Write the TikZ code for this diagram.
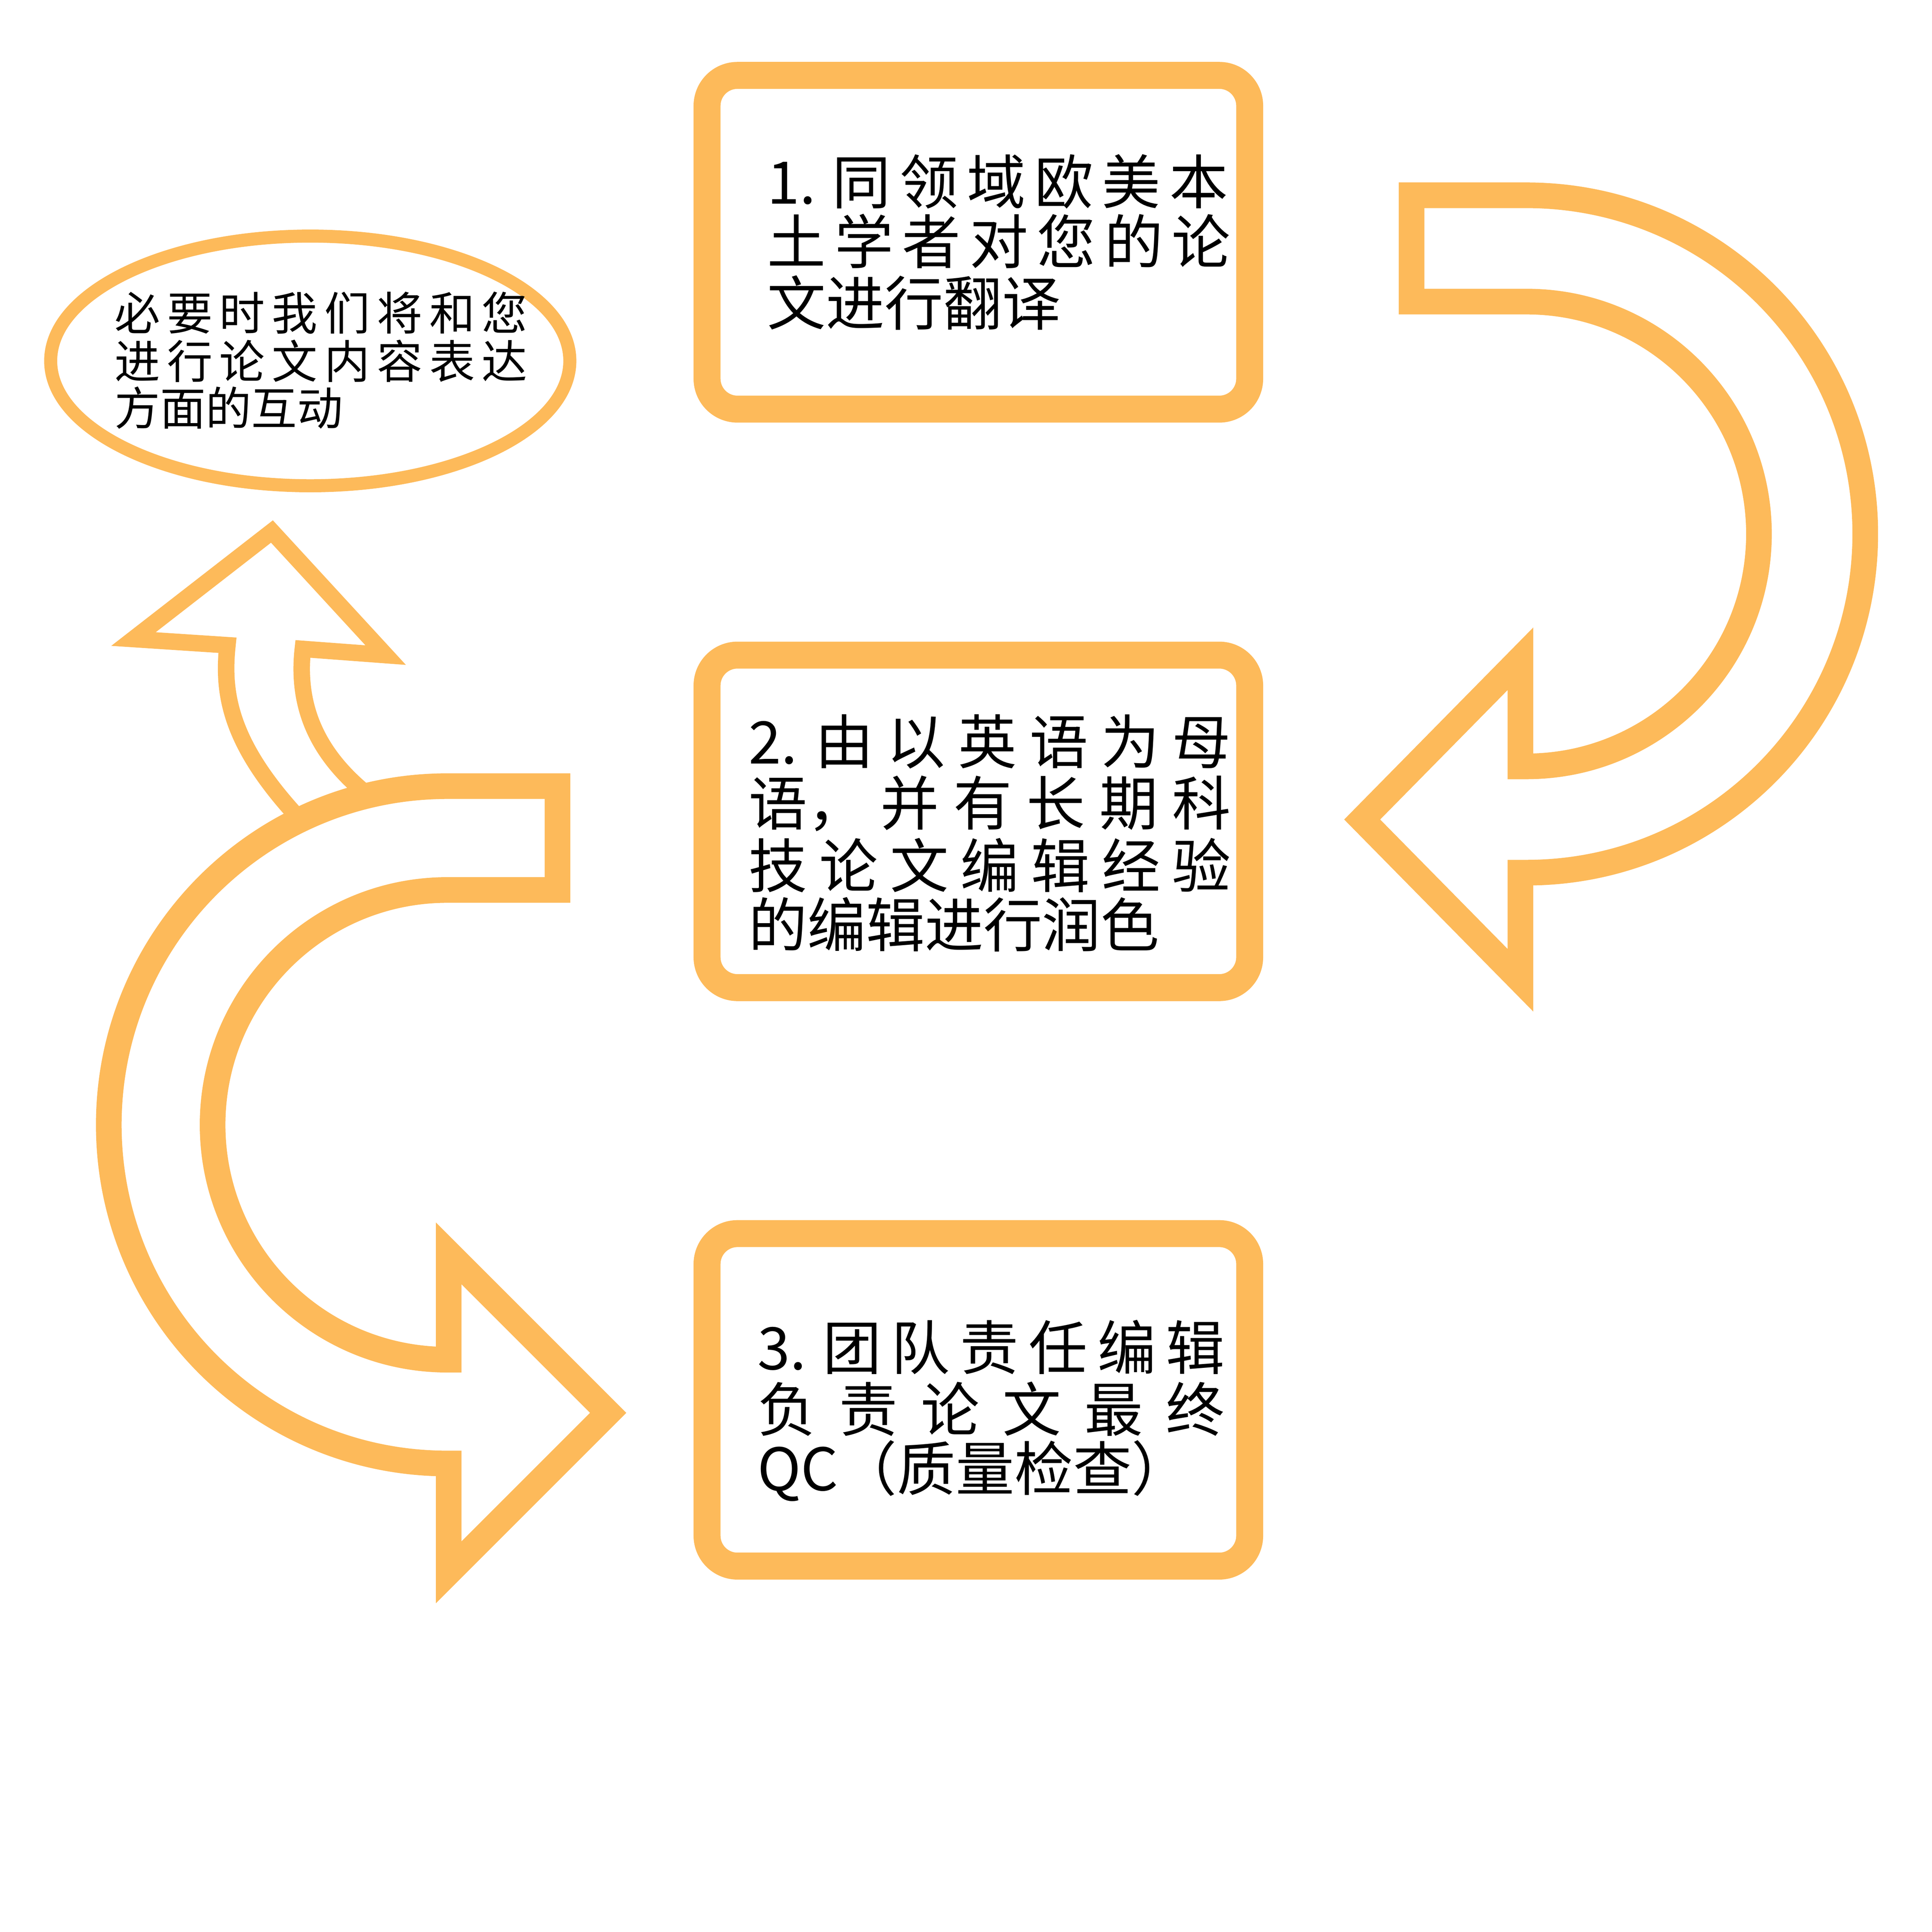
\documentclass[tikz,border=0pt]{standalone}
\usepackage{fontspec}
\setmainfont{Noto Sans CJK SC}
\definecolor{org}{RGB}{253,186,90}
\newcommand{\spr}[2]{\makebox[#1][s]{#2}}
\begin{document}
\begin{tikzpicture}[x=0.01cm,y=0.01cm,
  box/.style={draw=org,line width=6.2pt,rounded corners=7pt,fill=white},
  arr/.style={draw=org,line width=5.9pt,fill=white,line join=miter},
  bt/.style={anchor=west,inner sep=0pt,font=\fontsize{13.5}{13.5}\selectfont},
  et/.style={anchor=west,inner sep=0pt,font=\fontsize{10.5}{10.5}\selectfont}]
\useasboundingbox (0,0) rectangle (1563,1563);
% boxes
\draw[box] (572,1502) rectangle (1011,1232);
\draw[box] (572,1033) rectangle (1011,764);
\draw[box] (572,565) rectangle (1011,296);
% ellipse
\draw[org,line width=3pt,fill=white] (251,1271) ellipse [x radius=210,y radius=101];
% small arrow
\draw[org,line width=3.8pt,line join=miter] (240,903) .. controls (185,963) and (180,1003) .. (184,1041) -- (108,1046) -- (220,1133) -- (312,1033) -- (245,1038) .. controls (240,993) and (255,953) .. (300,918);
% right arrow
\draw[arr] (1142,1405)--(1235,1405) arc[start angle=90,end angle=-90,radius=274] --(1230,857)--(1230,770)--(1102,900)--(1230,1030)--(1230,943)--(1235,943) arc[start angle=-90,end angle=90,radius=188] --(1142,1319)--cycle;
% left arrow
\draw[arr] (451,927)--(362,927) arc[start angle=90,end angle=270,radius=274] --(363,379)--(363,291)--(492,420)--(363,549)--(363,463)--(362,463) arc[start angle=270,end angle=90,radius=190] --(451,843)--cycle;
% texts
\node[bt] (a1) at (620,1416) {\spr{3.6cm}{1. 同 领 域 欧 美 本}};
\node[bt] (a2) at (620,1368) {\spr{3.6cm}{土 学 者 对 您 的 论}};
\node[bt] (a3) at (620,1318) {文进行翻译};
\node[bt] (b1) at (605,963) {\spr{3.9cm}{2. 由 以 英 语 为 母}};
\node[bt] (b2) at (605,913) {\spr{3.9cm}{语， 并 有 长 期 科}};
\node[bt] (b3) at (605,863) {\spr{3.9cm}{技 论 文 编 辑 经 验}};
\node[bt] (b4) at (605,815) {的编辑进行润色};
\node[bt] (c1) at (612,473) {\spr{3.78cm}{3. 团 队 责 任 编 辑}};
\node[bt] (c2) at (612,423) {\spr{3.78cm}{负 责 论 文 最 终}};
\node[bt] (c3) at (612,373) {QC（质量检查）};
\node[et] (e1) at (92,1310) {\spr{3.18cm}{必 要 时 我 们 将 和 您}};
\node[et] (e2) at (92,1271) {\spr{3.18cm}{进 行 论 文 内 容 表 达}};
\node[et] (e3) at (92,1233) {方面的互动};
\end{tikzpicture}
\end{document}
